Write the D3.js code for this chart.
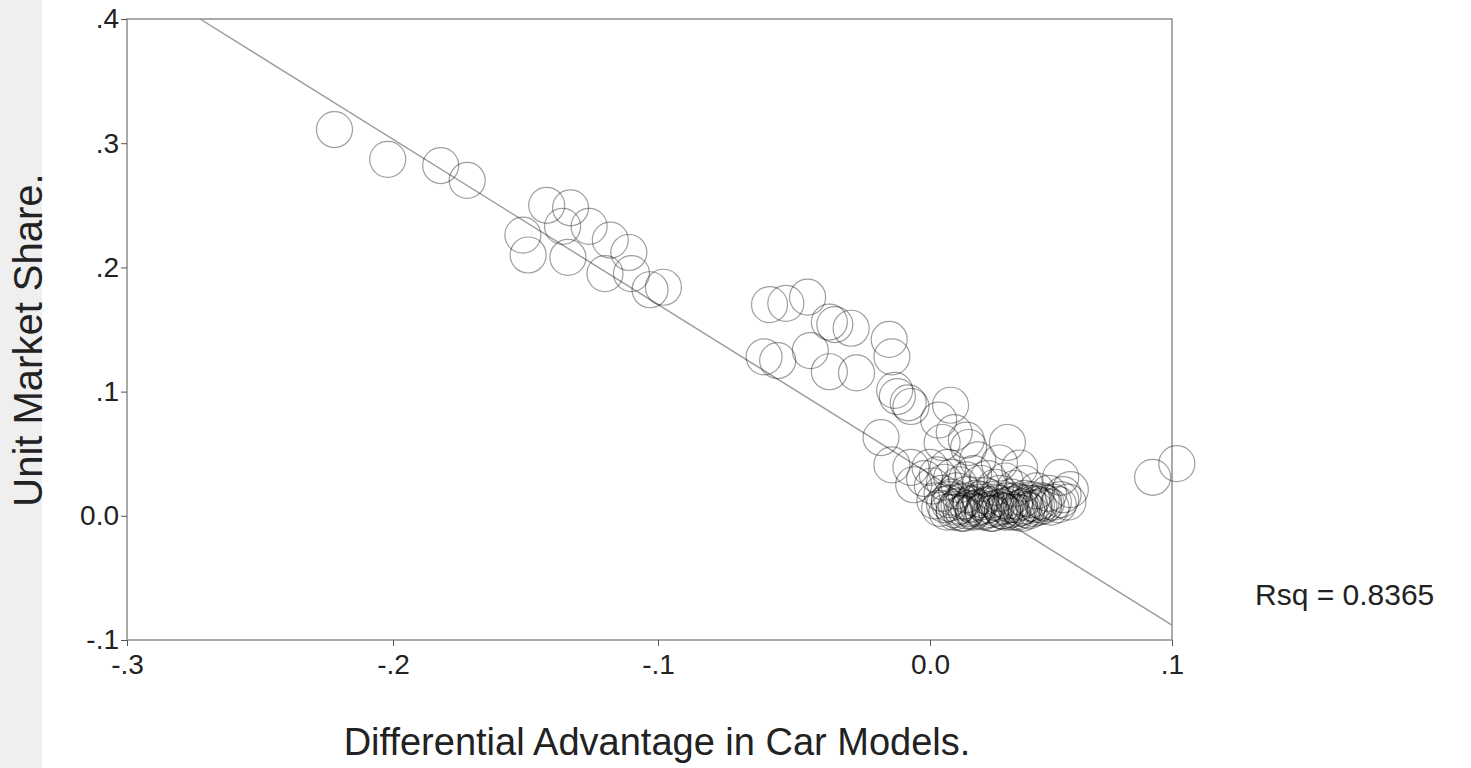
<!DOCTYPE html>
<html>
<head>
<meta charset="utf-8">
<script src="https://d3js.org/d3.v7.min.js"></script>
<style>
  body { margin: 0; background: #fff; }
  text { font-family: "Liberation Sans", Arial, sans-serif; fill: #222; }
</style>
</head>
<body>
<div id="chart"></div>
<script>
// values
var xTicks = [-0.3, -0.2, -0.1, 0.0, 0.1];
var yTicks = [-0.1, 0.0, 0.1, 0.2, 0.3, 0.4];
var xTickLabels = ["-.3", "-.2", "-.1", "0.0", ".1"];
var yTickLabels = ["-.1", "0.0", ".1", ".2", ".3", ".4"];

// differential advantage (x) / unit market share (y)
var advantage = [
  -.222, -.202, -.182, -.172, -.142, -.133, -.151, -.149, -.136, -.134, -.126, -.118, -.111, -.120, -.110, -.103, -.098,
  -.059, -.053, -.045, -.037, -.035, -.029, -.015, -.014, -.061, -.056, -.044, -.037, -.027, -.013, -.012, -.008,
  -.018, .0085, .010, .015, -.007, .0036, .005, .016, .032, -.014, -.007, .000, .0074, .0197, .0287, .037, .054, .057, .047,
  .002, .004, .005, .007, .008, .009, .010, .011, .012, .013, .014, .015, .016, .017, .018, .019, .020, .021, .022, .023,
  .024, .025, .026, .027, .028, .029, .030, .031, .032, .033, .034, .035, .036, .037, .038, .039, .040, .041, .042, .043,
  .044, .046, .047, .048, .050, .051, .053, .054,
  -.006, -.002, .001, .003, .006, .009, .012, .015, .018, .021, .024, .027, .031, .035, .039, .044, .049, .055, .058,
  .006, .008, .011, .013, .015, .017, .019, .021, .023, .025, .027, .029, .031, .033, .035, .037, .039, .041, .043, .045,
  .010, .014, .018, .022, .026, .030, .034, .038,
  .092, .102
];
var share = [
  .311, .287, .282, .270, .250, .248, .226, .210, .233, .208, .233, .222, .212, .195, .195, .182, .184,
  .170, .171, .176, .156, .154, .151, .142, .128, .128, .125, .133, .116, .115, .101, .096, .091,
  .063, .089, .067, .061, .088, .077, .059, .055, .059, .041, .039, .039, .039, .045, .0425, .0385, .031, .011, .011,
  .012, .006, .018, .003, .010, .015, .005, .020, .008, .002, .012, .017, .006, .009, .003, .014, .007, .011, .004, .016,
  .009, .002, .013, .006, .010, .018, .004, .008, .012, .005, .015, .009, .003, .011, .007, .014, .005, .010, .013, .006,
  .009, .012, .008, .010, .007, .011, .009, .013,
  .025, .030, .024, .033, .027, .031, .025, .029, .034, .026, .030, .023, .028, .022, .026, .020, .018, .017, .021,
  .009, .013, .007, .011, .004, .010, .006, .013, .008, .005, .011, .007, .003, .009, .012, .006, .008, .004, .010, .007,
  .003, .002, .004, .003, .002, .004, .003, .002,
  .031, .042
];

// fitted line shown on the chart
var fitIntercept = 0.043;
var fitSlope = -1.31;
var rsqLabel = "Rsq = 0.8365";

var margin = {top: 19, right: 299, bottom: 128, left: 127},
    width = 1471 - margin.left - margin.right,
    height = 768 - margin.top - margin.bottom;

var svg = d3.select("#chart")
    .append("svg")
    .attr("width", 1471)
    .attr("height", 768);

// greyish scan strip on the left edge
svg.append("rect")
    .attr("x", 0).attr("y", 0)
    .attr("width", 42).attr("height", 768)
    .attr("fill", "#efefef");

var g = svg.append("g")
    .attr("transform", "translate(" + margin.left + "," + margin.top + ")");

// the scan is slightly stretched, so the x ticks are not evenly spaced
var x = d3.scaleLinear()
    .domain(xTicks)
    .range([0, 266, 531, 803, width]);

var y = d3.scaleLinear()
    .domain([-0.1, 0.4])
    .range([height, 0]);

// frame
g.append("rect")
    .attr("width", width)
    .attr("height", height)
    .attr("fill", "none")
    .attr("stroke", "#8f8f8f")
    .attr("stroke-width", 1.5);

// X axis
var xAxis = g.append("g")
    .attr("transform", "translate(0," + height + ")")
    .call(d3.axisBottom(x).tickValues(xTicks).tickSize(6).tickSizeOuter(0)
        .tickFormat(function(d, i) { return xTickLabels[i]; }));
xAxis.select(".domain").remove();
xAxis.selectAll("line").attr("stroke", "#555");
xAxis.selectAll("text")
    .attr("dy", "0.9em")
    .style("font-size", "28px");

// Y axis
var yAxis = g.append("g")
    .call(d3.axisLeft(y).tickValues(yTicks).tickSize(6).tickSizeOuter(0)
        .tickFormat(function(d, i) { return yTickLabels[i]; }));
yAxis.select(".domain").remove();
yAxis.selectAll("line").attr("stroke", "#555");
yAxis.selectAll("text")
    .attr("x", -8)
    .style("font-size", "28px");

// fit line
var xStart = (0.4 - fitIntercept) / fitSlope;
g.append("line")
    .attr("x1", x(xStart))
    .attr("y1", y(fitIntercept + fitSlope * xStart))
    .attr("x2", x(0.1))
    .attr("y2", y(fitIntercept + fitSlope * 0.1))
    .attr("stroke", "#9a9a9a")
    .attr("stroke-width", 1.4);

// points
var points = advantage.map(function(d, i) { return {a: d, s: share[i]}; });
g.selectAll("circle.pt")
    .data(points)
    .enter()
    .append("circle")
    .attr("class", "pt")
    .attr("cx", function(d) { return x(d.a); })
    .attr("cy", function(d) { return y(d.s); })
    .attr("r", 18)
    .attr("fill", "none")
    .attr("stroke", "#000")
    .attr("stroke-opacity", 0.38)
    .attr("stroke-width", 1.2);

// axis titles
svg.append("text")
    .attr("x", 657)
    .attr("y", 755)
    .style("text-anchor", "middle")
    .style("font-size", "38px")
    .text("Differential Advantage in Car Models.");

svg.append("text")
    .attr("transform", "translate(42,340) rotate(-90)")
    .style("text-anchor", "middle")
    .style("font-size", "40px")
    .text("Unit Market Share.");

svg.append("text")
    .attr("x", 1255)
    .attr("y", 605)
    .style("font-size", "30px")
    .text(rsqLabel);
</script>
</body>
</html>
